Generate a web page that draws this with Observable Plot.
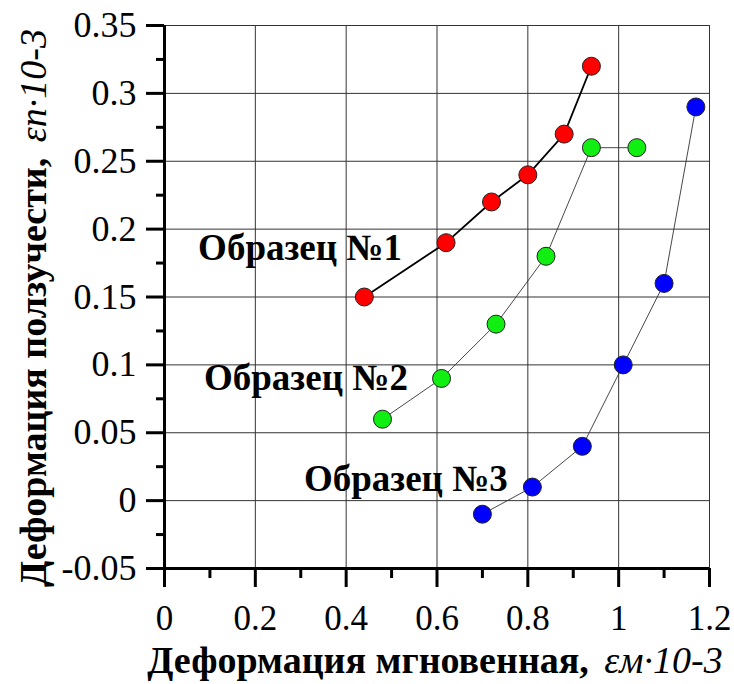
<!DOCTYPE html>
<html><head><meta charset="utf-8">
<script src="https://cdn.jsdelivr.net/npm/d3@7"></script>
<script src="https://cdn.jsdelivr.net/npm/@observablehq/plot@0.6"></script>
<style>body{margin:0;background:#fff}</style>
</head><body><div id="chart"></div>
<script>
const seriesNames = ["Образец №1", "Образец №2", "Образец №3"];
const x1 = [0.44, 0.62, 0.72, 0.80, 0.88, 0.94];
const y1 = [0.15, 0.19, 0.22, 0.24, 0.27, 0.32];
const x2 = [0.48, 0.61, 0.73, 0.84, 0.94, 1.04];
const y2 = [0.06, 0.09, 0.13, 0.18, 0.26, 0.26];
const x3 = [0.70, 0.81, 0.92, 1.01, 1.10, 1.17];
const y3 = [-0.01, 0.01, 0.04, 0.10, 0.16, 0.29];
const seriesColors = ["#ff0000", "#11ee11", "#0000ff"];
const labelX = [0.074, 0.087, 0.307];
const labelY = [0.186, 0.09, 0.016];
const xTicks = [0, 0.2, 0.4, 0.6, 0.8, 1, 1.2];
const xTickLabels = ["0", "0.2", "0.4", "0.6", "0.8", "1", "1.2"];
const xMinor = [0.1, 0.3, 0.5, 0.7, 0.9, 1.1];
const yTicks = [-0.05, 0, 0.05, 0.1, 0.15, 0.2, 0.25, 0.3, 0.35];
const yTickLabels = ["-0.05", "0", "0.05", "0.1", "0.15", "0.2", "0.25", "0.3", "0.35"];
const yMinor = [-0.025, 0.025, 0.075, 0.125, 0.175, 0.225, 0.275, 0.325];
const xTitle = "Деформация мгновенная,";
const xTitleSym = "εм·10-3";
const yTitle = "Деформация ползучести,";
const yTitleSym = "εп·10-3";

const xs = [x1, x2, x3], ys = [y1, y2, y3];
const data = [];
xs.forEach((xa, s) => xa.forEach((x, i) => data.push({series: seriesNames[s], x, y: ys[s][i]})));
const labels = seriesNames.map((name, i) => ({name, x: labelX[i], y: labelY[i]}));
const xTickData = xTicks.map((v, i) => ({v, t: xTickLabels[i]}));
const yTickData = yTicks.map((v, i) => ({v, t: yTickLabels[i]}));

const W = 734, H = 684, mL = 164, mR = 25, mT = 25, mB = 116;
const fw = W - mL - mR, fh = H - mT - mB;
const serif = "'Liberation Serif', 'Times New Roman', serif";
const chart = Plot.plot({
  width: W, height: H,
  marginLeft: mL, marginRight: mR, marginTop: mT, marginBottom: mB,
  style: {fontFamily: serif, color: "black", background: "white"},
  x: {domain: [0, 1.2]},
  y: {domain: [-0.05, 0.35]},
  marks: [
    Plot.gridX(xTicks.filter(d => d > 0), {stroke: "#333", strokeOpacity: 1, strokeWidth: 1}),
    Plot.gridY(yTicks.filter(d => d > -0.05), {stroke: "#333", strokeOpacity: 1, strokeWidth: 1}),
    // x ticks (outward, below frame)
    Plot.tickX(xMinor, {x: d => d, insetTop: fh, insetBottom: -10, stroke: "black", strokeWidth: 3}),
    Plot.tickX(xTicks, {x: d => d, insetTop: fh, insetBottom: -19, stroke: "black", strokeWidth: 3}),
    // y ticks (outward, left of frame)
    Plot.tickY(yMinor, {y: d => d, insetRight: fw, insetLeft: -8, stroke: "black", strokeWidth: 3}),
    Plot.tickY(yTicks, {y: d => d, insetRight: fw, insetLeft: -18, stroke: "black", strokeWidth: 3}),
    Plot.ruleX([0], {stroke: "black", strokeWidth: 3}),
    Plot.ruleY([-0.05], {stroke: "black", strokeWidth: 3}),
    // tick labels
    Plot.text(xTickData, {x: "v", text: "t", frameAnchor: "bottom", dy: 50, lineAnchor: "middle", fontSize: 35, fill: "black"}),
    Plot.text(yTickData, {y: "v", text: "t", frameAnchor: "left", dx: -28, textAnchor: "end", lineAnchor: "middle", fontSize: 36, fill: "black"}),
    Plot.line(data.filter(d => d.series === seriesNames[0]), {x: "x", y: "y", stroke: "black", strokeWidth: 1.8}),
    Plot.line(data.filter(d => d.series !== seriesNames[0]), {x: "x", y: "y", z: "series", stroke: "#333", strokeWidth: 0.9}),
    Plot.dot(data, {x: "x", y: "y", r: 9, fill: "series", stroke: "#222", strokeWidth: 1}),
    Plot.text(labels, {x: "x", y: "y", text: "name", textAnchor: "start", fontSize: 37, fontWeight: "bold", fill: "black"})
  ],
  color: {domain: seriesNames, range: seriesColors},
  axis: null
});
document.getElementById("chart").append(chart);

const svg = d3.select(chart);
const xt = svg.append("text")
  .attr("x", 435).attr("y", 673)
  .attr("text-anchor", "middle")
  .style("font-family", serif).style("font-size", "38px").attr("fill", "black");
xt.append("tspan").attr("font-weight", "bold").text(xTitle + " ");
xt.append("tspan").attr("font-style", "italic").attr("dx", 6).text(xTitleSym);

const yt = svg.append("text")
  .attr("transform", "translate(46,308) rotate(-90)")
  .attr("text-anchor", "middle")
  .style("font-family", serif).style("font-size", "38px").attr("fill", "black");
yt.append("tspan").attr("font-weight", "bold").text(yTitle + " ");
yt.append("tspan").attr("font-style", "italic").attr("dx", 6).text(yTitleSym);
</script>
</body></html>
